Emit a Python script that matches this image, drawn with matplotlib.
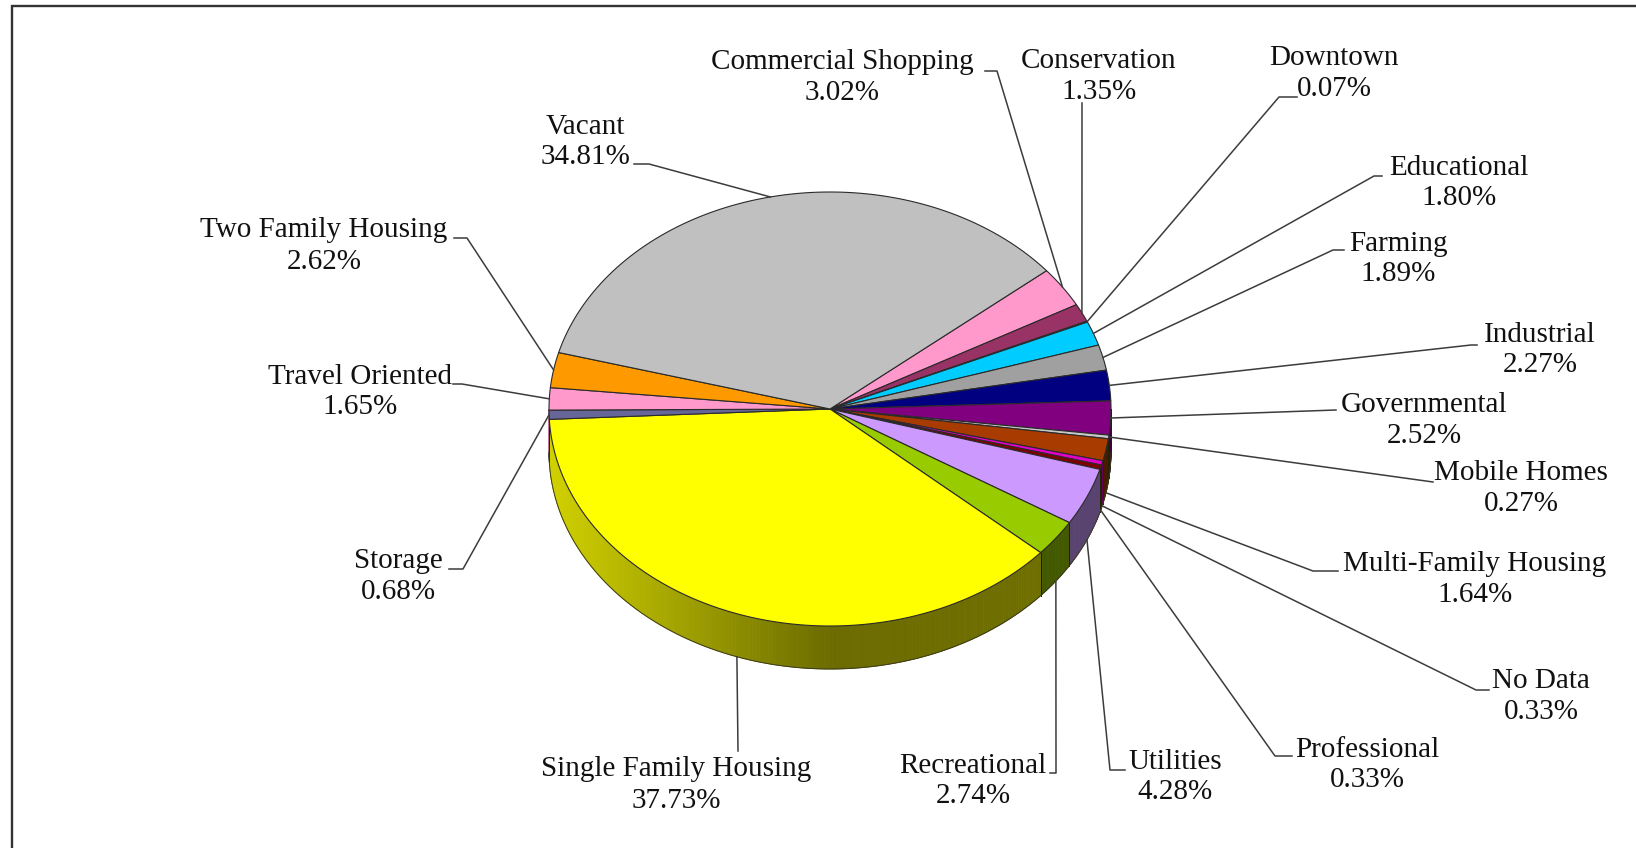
import numpy as np
import matplotlib
matplotlib.use("Agg")
import matplotlib.pyplot as plt
from matplotlib.colors import to_rgb
from matplotlib.patches import Polygon

# land use shares, clockwise from the Vacant/Commercial boundary
categories = [
    "Commercial Shopping", "Conservation", "Downtown", "Educational", "Farming",
    "Industrial", "Governmental", "Mobile Homes", "Multi-Family Housing", "No Data",
    "Professional", "Utilities", "Recreational", "Single Family Housing", "Storage",
    "Travel Oriented", "Two Family Housing", "Vacant",
]
shares = [
    3.02, 1.35, 0.07, 1.80, 1.89, 2.27, 2.52, 0.27, 1.64, 0.33,
    0.33, 4.28, 2.74, 37.73, 0.68, 1.65, 2.62, 34.81,
]
colors = [
    "#ff99cc", "#993366", "#ffffcc", "#00ccff", "#a0a0a0", "#000080", "#800080", "#c8c8c8",
    "#a83c00", "#e000c8", "#800000", "#cc99ff", "#99cc00", "#ffff00", "#666699",
    "#ff99cc", "#ff9900", "#c0c0c0",
]

# label centre x, name y, percent y
label_pos = [
    (842, 60, 91), (1099, 59, 90), (1334, 56, 87), (1459, 166, 196), (1398, 242, 272),
    (1540, 333, 363), (1424, 403, 434), (1521, 471, 502), (1475, 562, 593), (1541, 679, 710),
    (1367, 748, 778), (1175, 760, 790), (973, 764, 794), (676, 767, 799), (398, 559, 590),
    (360, 375, 405), (324, 228, 260), (585, 125, 155),
]
# leader line: stub start and elbow
leader_pos = [
    ((985, 71), (997, 71)), ((1082, 103), (1082, 103)), ((1297, 97), (1279, 97)),
    ((1382, 176), (1374, 176)), ((1344, 250), (1333, 250)), ((1477, 345), (1471, 345)),
    ((1336, 410), (1336, 410)), ((1433, 482), (1433, 482)), ((1338, 571), (1313, 571)),
    ((1489, 690), (1476, 690)), ((1292, 756), (1275, 756)), ((1125, 770), (1110, 770)),
    ((1050, 773), (1056, 773)), ((738, 751), (738, 751)), ((449, 569), (463, 569)),
    ((453, 384), (462, 384)), ((454, 238), (467, 238)), ((634, 164), (649, 164)),
]

cx, cy = 830, 409
rx, ry = 281, 217
depth = 43
start_deg = 50.4


def rim(theta_deg):
    t = np.radians(theta_deg)
    return cx + rx * np.sin(t), cy - ry * np.cos(t)


def wall_shade(theta_deg):
    # bright at the far left, levelling off to a flat dark tone past the middle
    x = np.sin(np.radians(theta_deg))
    return np.interp(x, [-1.0, -0.5, 0.0, 1.0], [0.82, 0.62, 0.42, 0.44])


fig = plt.figure(figsize=(16.36, 8.48), dpi=100)
ax = fig.add_axes([0, 0, 1, 1])
ax.set_xlim(0, 1636)
ax.set_ylim(848, 0)
ax.axis("off")

# frame: only top and left sides fall inside the canvas
ax.plot([12, 12, 1636], [848, 6, 6], color="#333333", lw=1.7, solid_joinstyle="miter")

edges = start_deg + np.cumsum([0] + shares) * 3.6

# side wall, drawn in narrow strips so the shading can change along it
for i, color in enumerate(colors):
    a0, a1 = edges[i], edges[i + 1]
    lo, hi = max(a0, 90), min(a1, 270)
    if lo >= hi:
        continue
    steps = np.linspace(lo, hi, max(2, int((hi - lo) / 0.5) + 1))
    base = np.array(to_rgb(color))
    for s0, s1 in zip(steps[:-1], steps[1:]):
        x0, y0 = rim(s0)
        x1, y1 = rim(s1)
        shade = wall_shade((s0 + s1) / 2)
        ax.add_patch(Polygon([(x0, y0), (x1, y1), (x1, y1 + depth), (x0, y0 + depth)],
                             closed=True, fc=base * shade, ec=base * shade, lw=0.6, zorder=2))
    x0, y0 = rim(lo)
    x1, y1 = rim(hi)
    ax.plot([x0, x0], [y0, y0 + depth], color="#222200", lw=0.7, zorder=3)
    ax.plot([x1, x1], [y1, y1 + depth], color="#222200", lw=0.7, zorder=3)

# wall outline along the bottom
t = np.linspace(90, 270, 200)
bx, by = rim(t)
ax.plot(bx, by + depth, color="#3a3a20", lw=0.7, zorder=3)

# top face
for i, color in enumerate(colors):
    t = np.linspace(edges[i], edges[i + 1], max(2, int(shares[i] * 6)))
    x, y = rim(t)
    pts = [(cx, cy)] + list(zip(x, y))
    ax.add_patch(Polygon(pts, closed=True, fc=color, ec="#2a2a2a", lw=0.8, zorder=4,
                         joinstyle="round"))

# leaders and labels
for i, name in enumerate(categories):
    mid = (edges[i] + edges[i + 1]) / 2
    x, y = rim(mid)
    if 100 < mid % 360 < 265:
        y += depth
    stub, elbow = leader_pos[i]
    ax.plot([stub[0], elbow[0], x], [stub[1], elbow[1], y], color="#3c3c3c", lw=1.1, zorder=5)
    lx, ny, py = label_pos[i]
    ax.text(lx, ny + 9, name, ha="center", va="baseline", family="Liberation Serif",
            fontsize=21, color="#111111", zorder=6)
    ax.text(lx, py + 9, f"{shares[i]:.2f}%", ha="center", va="baseline", family="Liberation Serif",
            fontsize=21, color="#111111", zorder=6)

fig.savefig("out.png", dpi=100)
